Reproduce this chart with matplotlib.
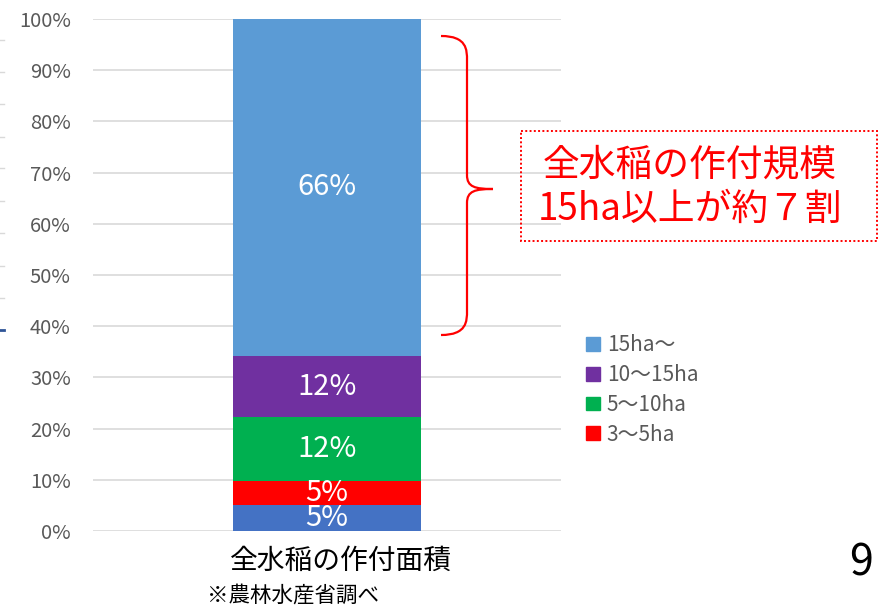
import matplotlib
matplotlib.use("Agg")
import matplotlib.pyplot as plt
from matplotlib.patches import Patch, Rectangle, PathPatch
from matplotlib.path import Path
from matplotlib.lines import Line2D
import matplotlib.transforms as mtransforms

plt.rcParams['font.family'] = ['Noto Sans CJK JP', 'DejaVu Sans']

# ---- data ----
category = ["全水稲の作付面積"]
series_names = ["～3ha", "3～5ha", "5～10ha", "10～15ha", "15ha～"]
series_values = [5.1, 4.7, 12.4, 12.0, 65.8]
series_colors = ["#4472C4", "#FF0000", "#00B050", "#7030A0", "#5B9BD5"]
legend_names = ["15ha～", "10～15ha", "5～10ha", "3～5ha"]
yticks = [0, 10, 20, 30, 40, 50, 60, 70, 80, 90, 100]
ytick_labels = [f"{v}%" for v in yticks]
callout_lines = ["全水稲の作付規模", "15ha以上が約７割"]
source_note = "※農林水産省調べ"
page_number = "9"

W, H = 883, 608
fig = plt.figure(figsize=(W / 100, H / 100), dpi=100)
ax = fig.add_axes([93 / W, 1 - 531 / H, (561 - 93) / W, (531 - 19) / H])

# pixel transform for decorations (origin top-left)
px = mtransforms.Affine2D().scale(1 / W, -1 / H).translate(0, 1) + fig.transFigure

bottom = 0
for name, val, col in zip(series_names, series_values, series_colors):
    ax.bar(0, val, width=0.4, bottom=bottom, color=col, label=name, zorder=3)
    ax.text(0, bottom + val / 2, f"{round(val)}%", ha="center", va="center",
            color="white", fontsize=21, zorder=4)
    bottom += val

ax.set_xlim(-0.5, 0.5)
ax.set_ylim(0, 100)
ax.set_yticks(yticks)
ax.set_yticklabels(ytick_labels)
ax.tick_params(axis="y", length=0, pad=16, labelsize=14.5, labelcolor="#595959")
ax.set_xticks([0])
ax.set_xticklabels(category)
ax.tick_params(axis="x", length=0, pad=11, labelsize=20, labelcolor="black")
for lab in ax.get_xticklabels():
    lab.set_transform(lab.get_transform() + mtransforms.ScaledTranslation(14 / 100, 0, fig.dpi_scale_trans))
ax.grid(axis="y", color="#D9D9D9", linewidth=1.2, zorder=0)
for s in ax.spines.values():
    s.set_visible(False)

# legend (4 entries)
handles = [Patch(color=series_colors[series_names.index(n)]) for n in legend_names]
leg = fig.legend(handles, legend_names, loc="upper left",
                 bbox_to_anchor=(586 / W, 1 - 334 / H), frameon=False,
                 fontsize=15, handlelength=0.65, handleheight=0.65,
                 handletextpad=0.35, labelspacing=0.38, borderpad=0, borderaxespad=0)
for t in leg.get_texts():
    t.set_color("#595959")

# curly brace (pixel coordinates)
xe, xv, xt = 441, 467, 493
y0, ym, y1 = 36, 189, 335
verts = [(xe, y0), (xv, y0), (xv, y0 + 14), (xv, y0 + 24),
         (xv, ym - 14),
         (xv, ym - 2), (xv + 8, ym), (xt, ym),
         (xv + 8, ym), (xv, ym + 2), (xv, ym + 14),
         (xv, y1 - 24),
         (xv, y1 - 14), (xv, y1), (xe, y1)]
codes = [Path.MOVETO, Path.CURVE4, Path.CURVE4, Path.CURVE4,
         Path.LINETO,
         Path.CURVE4, Path.CURVE4, Path.CURVE4,
         Path.CURVE4, Path.CURVE4, Path.CURVE4,
         Path.LINETO,
         Path.CURVE4, Path.CURVE4, Path.CURVE4]
fig.patches.append(PathPatch(Path(verts, codes), transform=px, fill=False,
                             edgecolor="#FF0000", linewidth=1.6))

# callout box
fig.patches.append(Rectangle((521, 131), 356, 110, transform=px, fill=False,
                             edgecolor="#FF0000", linestyle=(0, (1, 1.2)), linewidth=1.4))
fig.text(690 / W, 1 - 165 / H, callout_lines[0], ha="center", va="center",
         color="#FF0000", fontsize=26.5)
fig.text(690 / W, 1 - 209 / H, callout_lines[1], ha="center", va="center",
         color="#FF0000", fontsize=26.5)

# footnote and page number
fig.text(293 / W, 1 - 596 / H, source_note, ha="center", va="center",
         color="black", fontsize=15.5)
fig.text(861 / W, 1 - 564 / H, page_number, ha="center", va="center",
         color="black", fontsize=31)

# edge artifacts from neighbouring content
for yy in [40, 72, 104, 137, 168, 201, 233, 266, 298]:
    fig.lines.append(Line2D([0, 4], [yy, yy], transform=px, color="#D9D9D9", linewidth=1))
fig.lines.append(Line2D([0, 4], [330, 330], transform=px, color="#2F5597", linewidth=2))

fig.savefig("out.png", dpi=100)
